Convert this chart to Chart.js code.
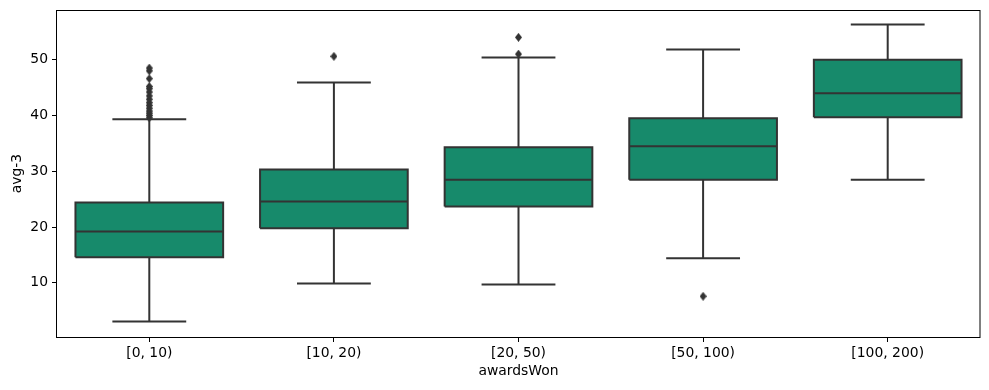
<!DOCTYPE html>
<html lang="en">
  <head>
    <meta charset="UTF-8" />
    <title>avg-3 by awardsWon</title>
    <script src="https://cdn.jsdelivr.net/npm/chart.js"></script>
    <style>
      body {
        margin: 0;
        background: #ffffff;
      }
      #chart {
        display: block;
      }
    </style>
  </head>
  <body>
    <canvas id="chart" width="989" height="390"></canvas>

    <script>
      // values
      const categories = ["[0, 10)", "[10, 20)", "[20, 50)", "[50, 100)", "[100, 200)"];
      const whiskerLow = [3.1, 9.9, 9.7, 14.4, 28.5];
      const q1 = [14.6, 19.8, 23.7, 28.5, 39.7];
      const medians = [19.2, 24.6, 28.5, 34.5, 44.0];
      const q3 = [24.4, 30.3, 34.3, 39.5, 50.0];
      const whiskerHigh = [39.3, 45.9, 50.4, 51.8, 56.3];
      const outliers = [
        [39.6, 40.0, 40.4, 40.8, 41.3, 41.8, 42.3, 42.9, 43.5, 44.2, 44.8, 45.2, 46.6, 48.0, 48.5],
        [50.6],
        [51.0, 54.0],
        [7.6],
        [],
      ];
      const yTicks = [10, 20, 30, 40, 50];

      const boxColor = "#178a6b";
      const lineColor = "#333333";
      const font = { family: "DejaVu Sans", size: 13.9 };

      // thin diamond marker like seaborn's "d"
      const diamond = document.createElement("canvas");
      diamond.width = 7;
      diamond.height = 9;
      const dctx = diamond.getContext("2d");
      dctx.fillStyle = lineColor;
      dctx.beginPath();
      dctx.moveTo(3.5, 0);
      dctx.lineTo(7, 4.5);
      dctx.lineTo(3.5, 9);
      dctx.lineTo(0, 4.5);
      dctx.closePath();
      dctx.fill();

      const boxes = categories.map((c, i) => ({ x: i, y: [q1[i], q3[i]] }));

      const outlinePts = [];
      const whiskerPts = [];
      const capPts = [];
      const medianPts = [];
      categories.forEach((c, i) => {
        outlinePts.push(
          { x: i - 0.4, y: q1[i] },
          { x: i + 0.4, y: q1[i] },
          { x: i + 0.4, y: q3[i] },
          { x: i - 0.4, y: q3[i] },
          { x: i - 0.4, y: q1[i] },
          { x: i, y: null }
        );
        whiskerPts.push({ x: i, y: q3[i] }, { x: i, y: whiskerHigh[i] }, { x: i, y: null });
        whiskerPts.push({ x: i, y: q1[i] }, { x: i, y: whiskerLow[i] }, { x: i, y: null });
        capPts.push({ x: i - 0.2, y: whiskerHigh[i] }, { x: i + 0.2, y: whiskerHigh[i] }, { x: i, y: null });
        capPts.push({ x: i - 0.2, y: whiskerLow[i] }, { x: i + 0.2, y: whiskerLow[i] }, { x: i, y: null });
        medianPts.push({ x: i - 0.4, y: medians[i] }, { x: i + 0.4, y: medians[i] }, { x: i, y: null });
      });

      const outlierPts = [];
      outliers.forEach((list, i) => list.forEach((v) => outlierPts.push({ x: i, y: v })));

      const segment = (data, order) => ({
        type: "line",
        data,
        order,
        borderColor: lineColor,
        borderWidth: 2,
        borderJoinStyle: "miter",
        borderCapStyle: "butt",
        pointRadius: 0,
        spanGaps: false,
        fill: false,
      });

      // box frame on all four sides, like matplotlib spines
      const frame = {
        id: "frame",
        afterDraw(chart) {
          const { ctx, chartArea: a } = chart;
          ctx.save();
          ctx.strokeStyle = "#000";
          ctx.lineWidth = 1;
          ctx.strokeRect(a.left - 0.5, a.top + 0.5, a.right - a.left + 0.5, a.bottom - a.top);
          ctx.restore();
        },
      };

      new Chart(document.getElementById("chart"), {
        type: "bar",
        data: {
          datasets: [
            {
              data: boxes,
              order: 4,
              backgroundColor: boxColor,
              borderWidth: 0,
              barPercentage: 0.8,
              categoryPercentage: 1,
            },
            segment(outlinePts, 3),
            segment(whiskerPts, 2),
            segment(capPts, 2),
            segment(medianPts, 1),
            {
              type: "scatter",
              data: outlierPts,
              order: 0,
              pointStyle: diamond,
              pointRadius: 4,
            },
          ],
        },
        options: {
          responsive: false,
          animation: false,
          layout: { padding: { top: 10, right: 9, left: 0, bottom: 0 } },
          plugins: { legend: { display: false }, tooltip: { enabled: false } },
          scales: {
            x: {
              type: "linear",
              min: -0.5,
              max: 4.5,
              offset: false,
              afterBuildTicks: (s) => {
                s.ticks = categories.map((c, i) => ({ value: i }));
              },
              afterFit: (s) => {
                s.height = 53;
              },
              grid: {
                offset: false,
                drawOnChartArea: false,
                drawTicks: true,
                tickLength: 5,
                color: "#000",
              },
              border: { display: false },
              ticks: {
                color: "#000",
                font,
                padding: 3,
                maxRotation: 0,
                callback: (v) => categories[v],
              },
              title: {
                display: true,
                text: "awardsWon",
                color: "#000",
                font,
                padding: { top: 0, bottom: 10 },
              },
            },
            y: {
              min: 0.3,
              max: 58.9,
              afterBuildTicks: (s) => {
                s.ticks = yTicks.map((v) => ({ value: v }));
              },
              afterFit: (s) => {
                s.width = 57;
                s.paddingTop = 0;
                s.paddingBottom = 0;
              },
              grid: {
                drawOnChartArea: false,
                drawTicks: true,
                tickLength: 5,
                color: "#000",
              },
              border: { display: false },
              ticks: { color: "#000", font, padding: 4 },
              title: {
                display: true,
                text: "avg-3",
                color: "#000",
                font,
                padding: { top: 9, bottom: 0 },
              },
            },
          },
        },
        plugins: [frame],
      });
    </script>
  </body>
</html>
